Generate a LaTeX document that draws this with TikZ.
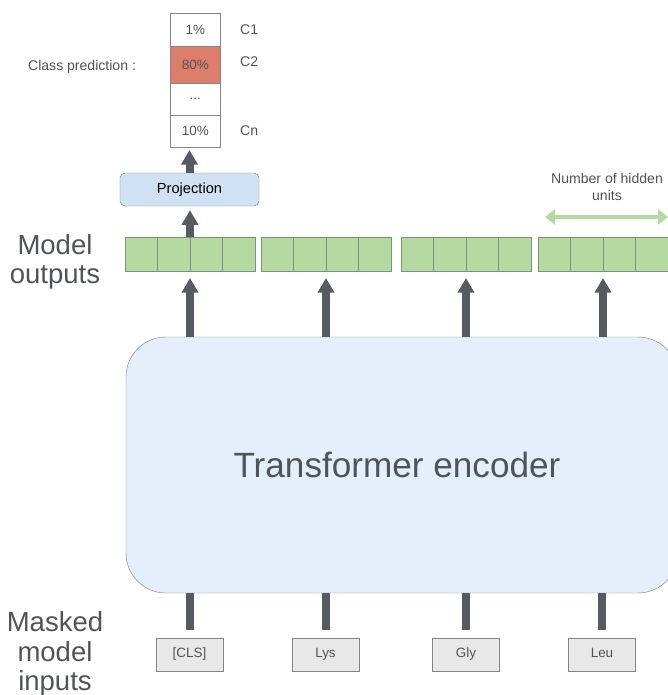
\documentclass[tikz,border=0pt]{standalone}
\usepackage{fontspec}
\setmainfont{Liberation Sans}
\usetikzlibrary{arrows.meta,positioning}
\definecolor{Slate}{HTML}{555B61}
\definecolor{Leaf}{HTML}{B4DAA2}
\definecolor{LeafEdge}{HTML}{7E9479}
\definecolor{Sky}{HTML}{CFE2F3}
\definecolor{Ice}{HTML}{E4EFFB}
\definecolor{Berry}{HTML}{DD7E6B}
\definecolor{Ash}{HTML}{E8E8E8}
\definecolor{Edge}{HTML}{858585}
\definecolor{Ink}{HTML}{505459}

\begin{document}
\begin{tikzpicture}[x=0.03cm,y=-0.03cm,font=\fontsize{12}{14}\selectfont,
  cell/.style={draw=LeafEdge,fill=Leaf,minimum width=0.975cm,minimum height=1.02cm,inner sep=0pt,outer sep=0pt},
  prob/.style={draw=Edge,fill=white,minimum width=1.485cm,inner sep=0pt,outer sep=0pt,text=Ink,font=\fontsize{11.5}{13}\selectfont},
  token/.style={draw=Edge,fill=Ash,minimum width=2.01cm,minimum height=0.99cm,text height=1.6ex,text depth=0.5ex,text=Ink,font=\fontsize{11.5}{13}\selectfont},
  fat/.style={draw=Slate,line width=0.24cm,-{Triangle[length=0.44cm,width=0.48cm]}},
  bar/.style={draw=Slate,line width=0.24cm},
  side/.style={text=Ink,align=center,font=\fontsize{23.5}{25}\selectfont},
  small/.style={text=Ink}]
        \useasboundingbox (0,0) rectangle (668,695);
        \node[prob,minimum height=0.99cm] (c1) at (195.3,29.5) {1\%};
        \node[prob,minimum height=1.11cm,fill=Berry] (c2) at (195.3,64.5) {80\%};
        \node[prob,minimum height=0.96cm] (c3) at (195.3,99) {...};
        \node[prob,minimum height=0.96cm] (c4) at (195.3,131) {10\%};
        \node[small,anchor=west] (l1) at (236,30) {C1};
        \node[small,anchor=west] (l2) at (236,62) {C2};
        \node[small,anchor=west] (l4) at (236,131) {Cn};
        \node[small,anchor=west] (cp) at (24,67) {Class prediction :};
        \node[draw=Edge,fill=Sky,rounded corners=0.15cm,minimum width=4.17cm,minimum height=0.99cm,font=\fontsize{12.5}{14}\selectfont] (proj) at (189.5,189.5) {Projection};
        \node[side] (mo) at (55,262) {Model\\outputs};
        \node[side] (mi) at (55,654) {Masked\\model\\inputs};
        \node[small,align=center] (hu) at (607,187) {Number of hidden\\units};
        \coordinate (hl) at (545,217);
        \coordinate (hr) at (668,217);
        \draw[Leaf,line width=0.12cm,{Triangle[length=0.3cm,width=0.45cm]}-{Triangle[length=0.3cm,width=0.45cm]}] (hl)--(hr);
        \foreach \g/\x in {1/125,2/261,3/401,4/538}
          \foreach \c in {0,...,3}
            \node[cell] (o\g\c) at (\x+32.5*\c+16.25,254) {};
        \node[draw=Edge,fill=Ice,rounded corners=1.2cm,minimum width=16.56cm,minimum height=7.68cm,text=Ink,font=\fontsize{30}{34}\selectfont] (enc) at (402,465) {Transformer encoder\hspace*{0.3cm}};
        \node[token] (t1) at (189.5,654.5) {[CLS]};
        \node[token] (t2) at (325.5,654.5) {Lys};
        \node[token] (t3) at (466,654.5) {Gly};
        \node[token] (t4) at (602,654.5) {Leu};
        \foreach \g in {1,...,4} {
          \draw[fat,shorten >=0.21cm] (enc.north -| o\g1.south east)--(o\g1.south east);
          \draw[bar,shorten <=0.24cm] (t\g.north)--(t\g.north |- enc.south);
        }
        \draw[fat,shorten >=0.12cm] (o11.north east)--(proj.south -| o11.north east);
        \draw[fat,shorten >=0.09cm] (proj.north)--(proj.north |- c4.south);
      \end{tikzpicture}
\end{document}
